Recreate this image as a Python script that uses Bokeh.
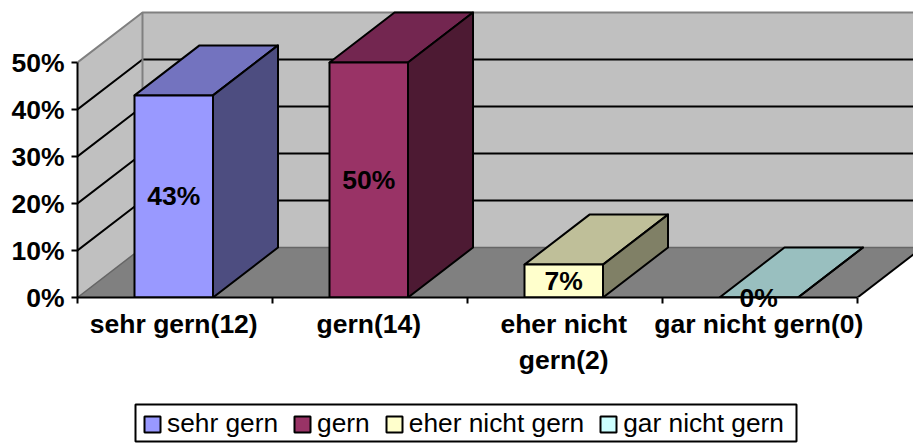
from bokeh.plotting import figure
from bokeh.core.properties import value
from bokeh.layouts import column
from bokeh.models import (ColumnDataSource, Range1d, LinearAxis, FixedTicker, Legend, LegendItem,
                          NumeralTickFormatter)
from bokeh.embed import file_html
from bokeh.resources import INLINE

series = ["sehr gern", "gern", "eher nicht gern", "gar nicht gern"]
cat_labels = ["sehr gern(12)", "gern(14)", "eher nicht\ngern(2)", "gar nicht gern(0)"]
values = [43, 50, 7, 0]
y_ticks = [0, 10, 20, 30, 40, 50]
front = ["#9999FF", "#993366", "#FFFFCC", "#CCFFFF"]
top = ["#7373BF", "#732650", "#BFBF99", "#99BFBF"]
side = ["#4D4D80", "#4D1A33", "#808066", "#668080"]

FONT = "Liberation Sans"
PX_X = 195.0      # pixels per category
PX_Y = 4.7        # pixels per percent
DX = 65 / PX_X    # depth of the 3D box, data units
DY = 50 / PX_Y
BAR = 78.5 / PX_X
GAP = 57 / PX_X
LABEL_FS = "26.5px"
n = len(values)
ymax_axis = y_ticks[-1]

p = figure(width=913, height=394, output_backend="svg", toolbar_location=None,
           x_range=Range1d(0, 836 / PX_X), y_range=Range1d(0, 297 / PX_Y),
           x_axis_type=None, y_axis_type=None,
           min_border_left=77, min_border_right=0, min_border_top=0, min_border_bottom=97)
p.outline_line_color = None
p.grid.visible = False
p.background_fill_color = "white"

GRAY = "#808080"
# walls and floor
p.patch([0, 0, DX, DX], [0, ymax_axis, ymax_axis + DY, DY], fill_color="#C0C0C0", line_color=None)
p.patch([DX, DX, n + DX, n + DX], [DY, ymax_axis + DY, ymax_axis + DY, DY], fill_color="#C0C0C0", line_color=None)
p.patch([0, DX, n + DX, n], [0, DY, DY, 0], fill_color="#808080", line_color=None)

# gridlines
inner = y_ticks[1:-1]
p.multi_line([[0, DX, n + DX] for v in inner], [[v, v + DY, v + DY] for v in inner],
             line_color="black", line_width=2)
p.line([0, DX, n + DX], [ymax_axis, ymax_axis + DY, ymax_axis + DY], line_color=GRAY, line_width=2)
p.line([DX, DX], [DY, ymax_axis + DY], line_color=GRAY, line_width=2)
p.line([0, DX, n + DX], [0, DY, DY], line_color="#666666", line_width=1.5)
p.line([n, n + DX], [0, DY], line_color="black", line_width=2)

# bars
left = [i + GAP for i in range(n)]
right = [l + BAR for l in left]
p.patches([[l, l + DX, r + DX, r] for l, r in zip(left, right)],
          [[v, v + DY, v + DY, v] for v in values],
          fill_color=top, line_color="black", line_width=2, line_join="round")
p.patches([[r, r + DX, r + DX, r] for r in right],
          [[0, DY, v + DY, v] for v in values],
          fill_color=side, line_color="black", line_width=2, line_join="round")
p.quad(left=left, right=right, bottom=[0] * n, top=values,
       fill_color=front, line_color="black", line_width=2)

# axes
ya = LinearAxis(ticker=FixedTicker(ticks=y_ticks), bounds=(0, ymax_axis),
                formatter=NumeralTickFormatter(format='0"%"'))
ya.major_label_overrides = {v: f"{v}%" for v in y_ticks}
ya.major_label_text_font = FONT
ya.major_label_text_font_style = "bold"
ya.major_label_text_font_size = LABEL_FS
ya.major_label_text_color = "black"
ya.axis_line_color = "black"
ya.axis_line_width = 2
ya.major_tick_line_color = "black"
ya.major_tick_line_width = 2
ya.major_tick_out = 6
ya.major_tick_in = 0
ya.minor_tick_line_color = None
ya.major_label_standoff = 7
p.add_layout(ya, "left")

centers = [l + BAR / 2 for l in left]
xa = LinearAxis(ticker=FixedTicker(ticks=centers, minor_ticks=list(range(n + 1))), bounds=(0, n))
xa.major_label_overrides = dict(zip(centers, cat_labels))
xa.major_label_text_font = FONT
xa.major_label_text_font_style = "bold"
xa.major_label_text_font_size = LABEL_FS
xa.major_label_text_color = "black"
xa.axis_line_color = "black"
xa.axis_line_width = 2
xa.major_tick_line_color = None
xa.major_tick_out = 0
xa.major_tick_in = 0
xa.minor_tick_line_color = "black"
xa.minor_tick_line_width = 2
xa.minor_tick_out = 6
xa.minor_tick_in = 0
xa.major_label_standoff = 5
p.add_layout(xa, "below")

# data labels
src = ColumnDataSource(dict(x=centers, y=[v / 2 for v in values], t=[f"{v}%" for v in values]))
p.text(x="x", y="y", text="t", source=src, text_align="center", text_baseline="middle",
       text_font=value(FONT), text_font_style="bold", text_font_size=LABEL_FS, text_color="black",
       level="overlay")

# legend, in its own strip under the chart
lg = figure(width=913, height=50, output_backend="svg", toolbar_location=None,
            x_range=Range1d(0, 836), y_range=Range1d(0, 50), x_axis_type=None, y_axis_type=None,
            min_border=0, min_border_left=77)
lg.outline_line_color = None
lg.grid.visible = False
lg.quad(left=[58], right=[719], bottom=[3], top=[40], fill_color="white",
        line_color="black", line_width=2)
items = []
for i in range(n):
    q = lg.quad(left=[float("nan")], right=[float("nan")], bottom=[0], top=[1],
                fill_color=front[i], line_color="black", line_width=2)
    items.append(LegendItem(label=series[i], renderers=[q]))
leg = Legend(items=items, orientation="horizontal", location=(65, 5),
             label_text_font=FONT, label_text_font_size="26.3px", label_text_color="black",
             glyph_width=20, glyph_height=20, label_standoff=5, spacing=14,
             padding=0, margin=0, border_line_color=None,
             background_fill_alpha=0, label_height=24)
lg.add_layout(leg, "center")

open("out.html", "w").write(file_html(column(p, lg, spacing=0), INLINE))
